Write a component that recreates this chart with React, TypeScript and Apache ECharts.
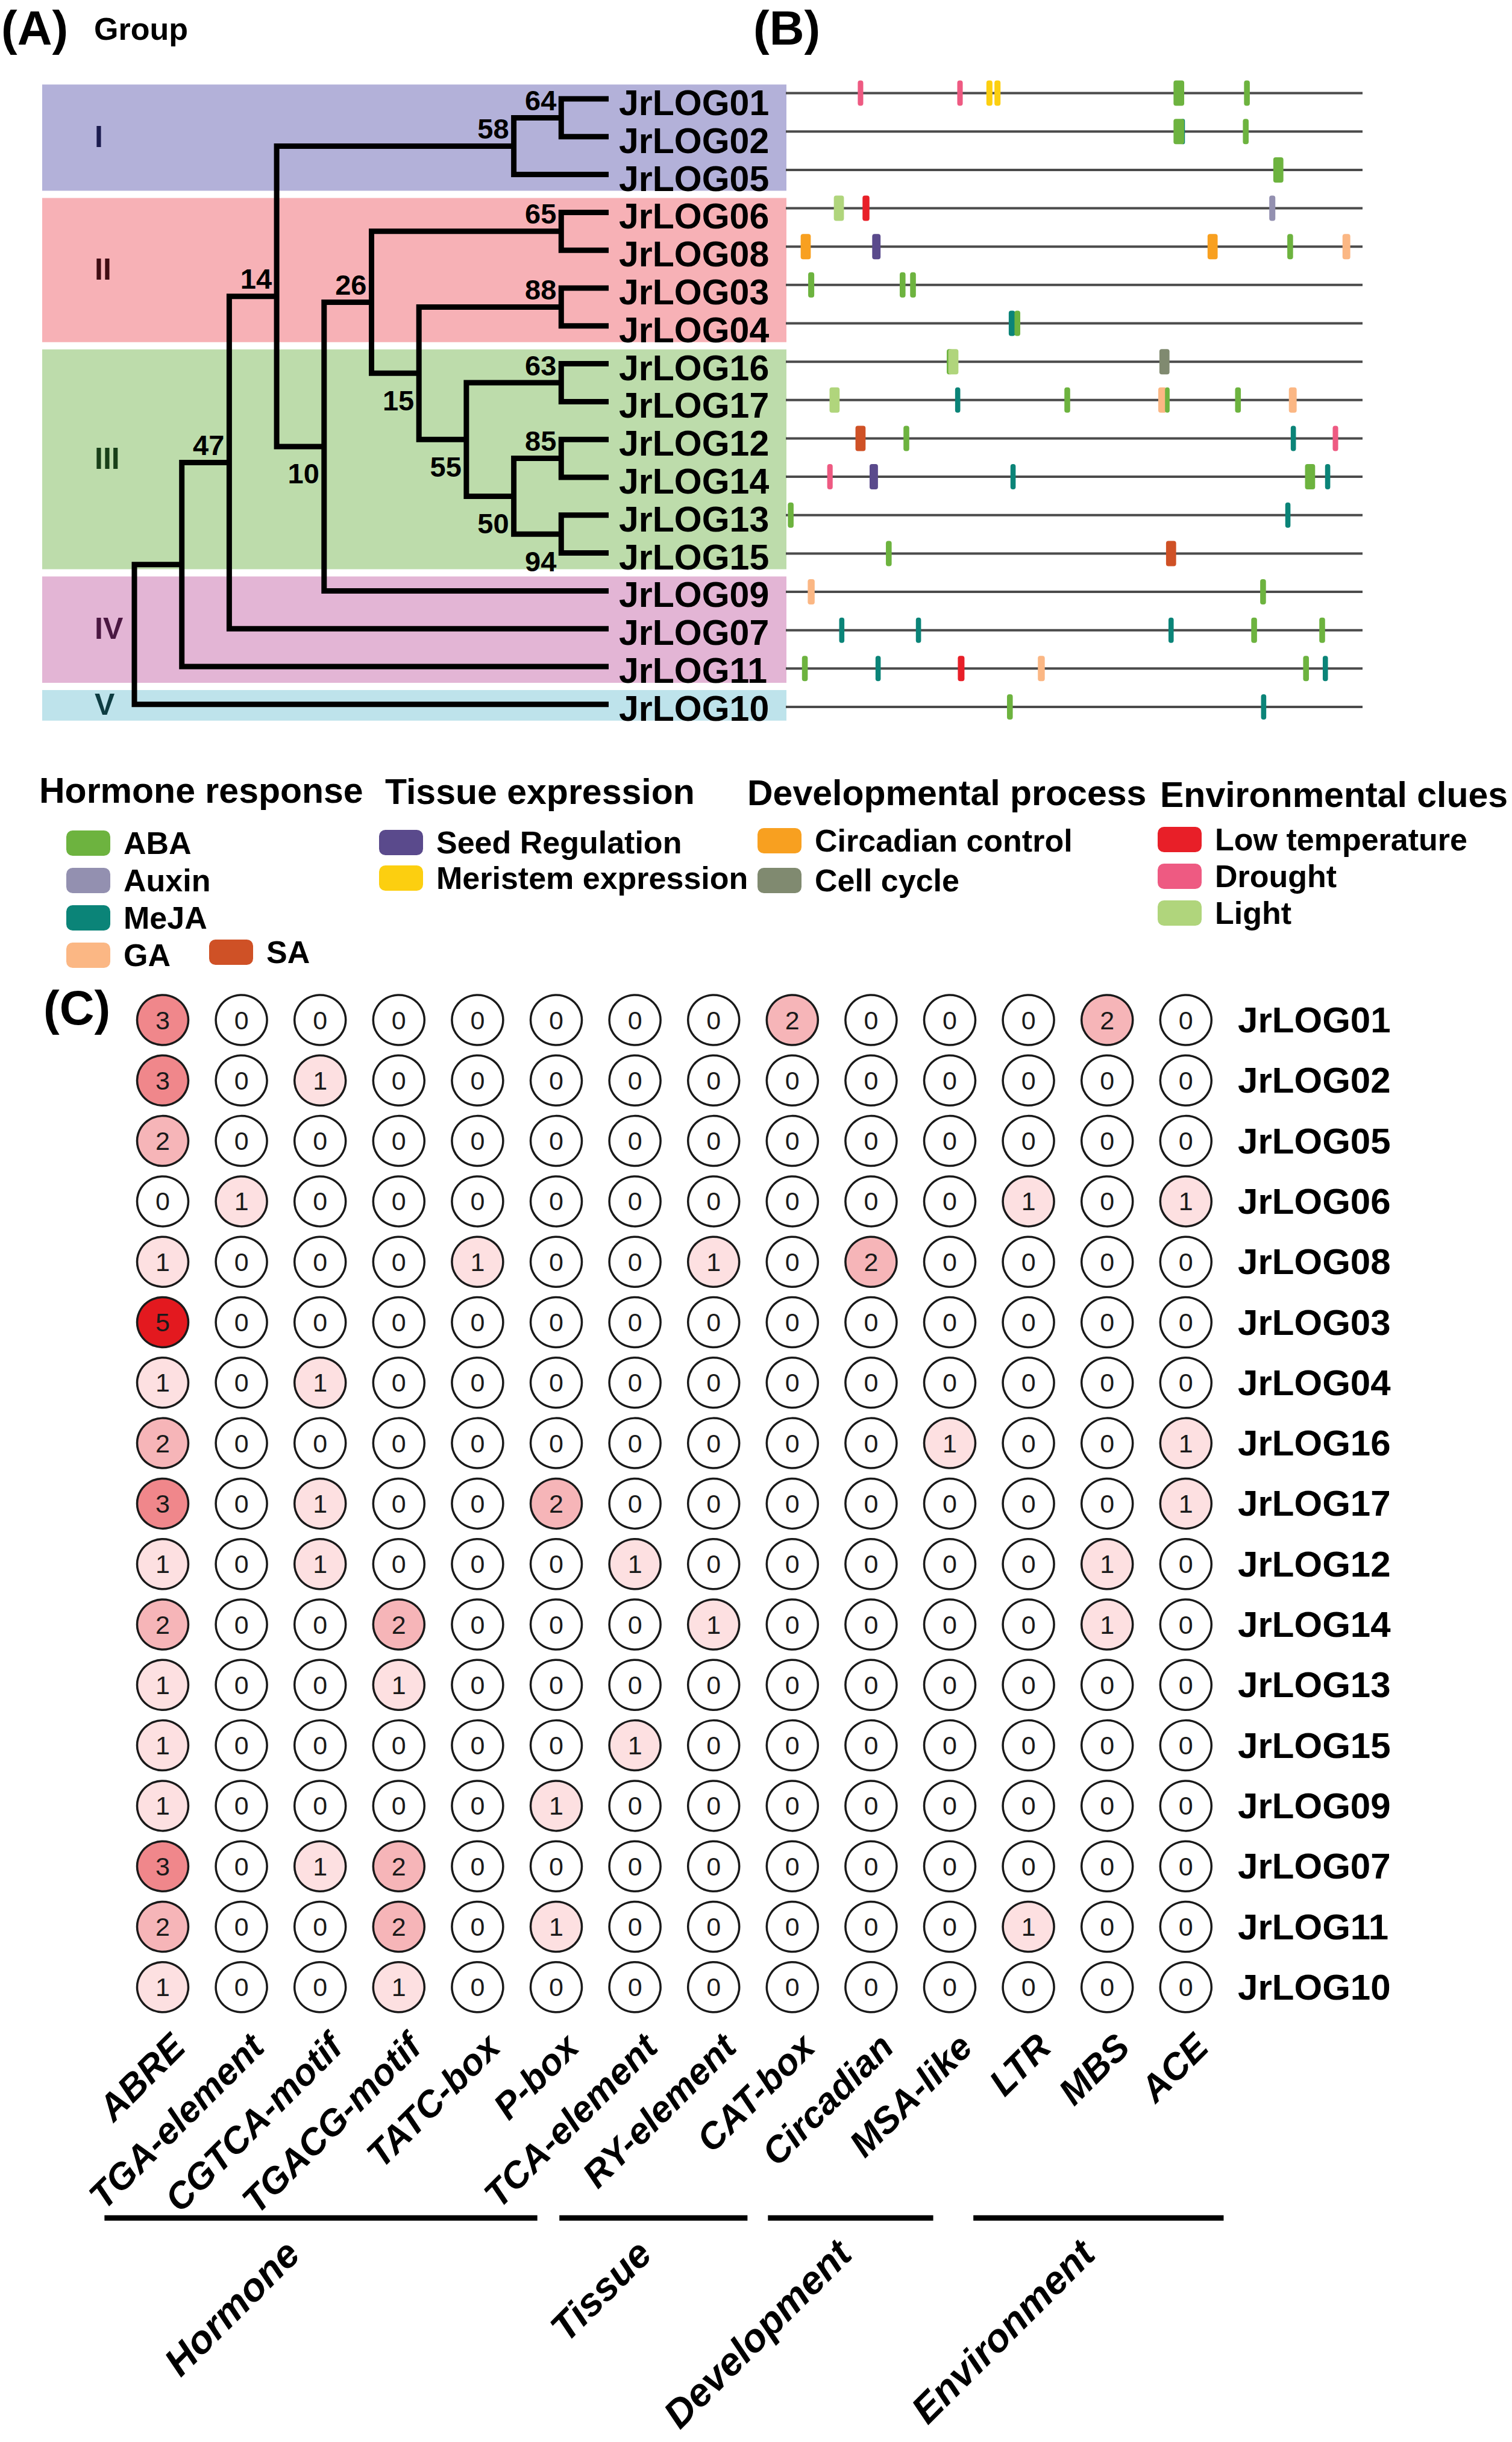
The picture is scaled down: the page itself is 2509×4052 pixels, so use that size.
import React, { useEffect, useRef } from 'react';
import * as echarts from 'echarts';

const FONT = '"Liberation Sans", Arial, Helvetica, sans-serif';

// ---------------- (A) phylogenetic tree ----------------
const leafNames = ['JrLOG01', 'JrLOG02', 'JrLOG05', 'JrLOG06', 'JrLOG08', 'JrLOG03', 'JrLOG04', 'JrLOG16', 'JrLOG17', 'JrLOG12', 'JrLOG14', 'JrLOG13', 'JrLOG15', 'JrLOG09', 'JrLOG07', 'JrLOG11', 'JrLOG10'];
const leafLevel = 10;
// internal nodes (children before parents): [id, level, child1, child2, bootstrap, label side]
const treeNodes: [string, number, string, string, string, string][] = [
  ['n64', 9, 'JrLOG01', 'JrLOG02', '64', 'above'],
  ['n58', 8, 'n64', 'JrLOG05', '58', 'above'],
  ['n65', 9, 'JrLOG06', 'JrLOG08', '65', 'above'],
  ['n88', 9, 'JrLOG03', 'JrLOG04', '88', 'above'],
  ['n63', 9, 'JrLOG16', 'JrLOG17', '63', 'above'],
  ['n85', 9, 'JrLOG12', 'JrLOG14', '85', 'above'],
  ['n94', 9, 'JrLOG13', 'JrLOG15', '94', 'below'],
  ['n50', 8, 'n85', 'n94', '50', 'below'],
  ['n55', 7, 'n63', 'n50', '55', 'below'],
  ['n15', 6, 'n88', 'n55', '15', 'below'],
  ['n26', 5, 'n65', 'n15', '26', 'above'],
  ['n10', 4, 'n26', 'JrLOG09', '10', 'below'],
  ['n14', 3, 'n58', 'n10', '14', 'above'],
  ['n47', 2, 'n14', 'JrLOG07', '47', 'above'],
  ['nA', 1, 'n47', 'JrLOG11', '', 'above'],
  ['root', 0, 'nA', 'JrLOG10', '', 'above'],
];

const groupNames = ['I', 'II', 'III', 'IV', 'V'];
const groupFirstLeaf = [0, 3, 7, 13, 16];
const groupLastLeaf = [2, 6, 12, 15, 16];
const groupColors = ['#b3b1d9', '#f7b1b6', '#bddcab', '#e3b5d5', '#bee3eb'];
const groupTextColors = ['#1c1c4f', '#3f0c12', '#183f18', '#4a1741', '#0e3d42'];

// ---------------- (B) promoter motifs: [row, position (bp), length (bp)] ----------------
const promoterLength = 2000;
const motifABA = [[0, 1363, 37], [0, 1599, 20], [1, 1363, 37], [1, 1595, 20], [2, 1708, 35], [4, 1749, 20], [5, 88, 21], [5, 405, 20], [5, 441, 20], [6, 803, 20], [7, 568, 20], [8, 976, 20], [8, 1323, 16], [8, 1568, 20], [9, 418, 20], [10, 1818, 35], [11, 17, 20], [12, 357, 20], [13, 1655, 20], [14, 1624, 20], [14, 1860, 20], [15, 66, 20], [15, 1804, 20], [16, 777, 20]];
const motifAuxin = [[3, 1687, 21]];
const motifMeJA = [[1, 1377, 14], [6, 784, 22], [8, 596, 18], [9, 1760, 18], [10, 788, 18], [10, 1879, 18], [11, 1741, 18], [14, 194, 18], [14, 460, 18], [14, 1336, 18], [15, 320, 18], [15, 1871, 18], [16, 1657, 18]];
const motifGA = [[4, 1944, 27], [8, 1306, 29], [8, 1758, 27], [13, 88, 24], [15, 886, 24]];
const motifSA = [[9, 259, 35], [12, 1336, 35]];
const motifSeed = [[4, 314, 29], [10, 305, 29]];
const motifMeristem = [[0, 706, 21], [0, 734, 21]];
const motifCircadian = [[4, 69, 35], [4, 1480, 35]];
const motifCellCycle = [[7, 1313, 35]];
const motifLowTemp = [[3, 278, 24], [15, 608, 23]];
const motifDrought = [[0, 259, 19], [0, 604, 19], [9, 1906, 19], [10, 153, 19]];
const motifLight = [[3, 184, 35], [7, 581, 35], [8, 169, 35]];

const motifTypes = [
  { name: 'MeJA', color: '#0b8478', data: motifMeJA },
  { name: 'GA', color: '#fbb784', data: motifGA },
  { name: 'SA', color: '#cf5126', data: motifSA },
  { name: 'Auxin', color: '#9390b0', data: motifAuxin },
  { name: 'Seed Regulation', color: '#5a4a8c', data: motifSeed },
  { name: 'Meristem expression', color: '#fccf10', data: motifMeristem },
  { name: 'Circadian control', color: '#f8a020', data: motifCircadian },
  { name: 'Cell cycle', color: '#808a70', data: motifCellCycle },
  { name: 'Low temperature', color: '#e81f28', data: motifLowTemp },
  { name: 'Drought', color: '#ee5a82', data: motifDrought },
  { name: 'ABA', color: '#6db33f', data: motifABA },
  { name: 'Light', color: '#b0d57c', data: motifLight },
];

// ---------------- (C) cis-element counts ----------------
const creNames = ['ABRE', 'TGA-element', 'CGTCA-motif', 'TGACG-motif', 'TATC-box', 'P-box', 'TCA-element', 'RY-element', 'CAT-box', 'Circadian', 'MSA-like', 'LTR', 'MBS', 'ACE'];
const cnt01 = [3, 0, 0, 0, 0, 0, 0, 0, 2, 0, 0, 0, 2, 0];
const cnt02 = [3, 0, 1, 0, 0, 0, 0, 0, 0, 0, 0, 0, 0, 0];
const cnt05 = [2, 0, 0, 0, 0, 0, 0, 0, 0, 0, 0, 0, 0, 0];
const cnt06 = [0, 1, 0, 0, 0, 0, 0, 0, 0, 0, 0, 1, 0, 1];
const cnt08 = [1, 0, 0, 0, 1, 0, 0, 1, 0, 2, 0, 0, 0, 0];
const cnt03 = [5, 0, 0, 0, 0, 0, 0, 0, 0, 0, 0, 0, 0, 0];
const cnt04 = [1, 0, 1, 0, 0, 0, 0, 0, 0, 0, 0, 0, 0, 0];
const cnt16 = [2, 0, 0, 0, 0, 0, 0, 0, 0, 0, 1, 0, 0, 1];
const cnt17 = [3, 0, 1, 0, 0, 2, 0, 0, 0, 0, 0, 0, 0, 1];
const cnt12 = [1, 0, 1, 0, 0, 0, 1, 0, 0, 0, 0, 0, 1, 0];
const cnt14 = [2, 0, 0, 2, 0, 0, 0, 1, 0, 0, 0, 0, 1, 0];
const cnt13 = [1, 0, 0, 1, 0, 0, 0, 0, 0, 0, 0, 0, 0, 0];
const cnt15 = [1, 0, 0, 0, 0, 0, 1, 0, 0, 0, 0, 0, 0, 0];
const cnt09 = [1, 0, 0, 0, 0, 1, 0, 0, 0, 0, 0, 0, 0, 0];
const cnt07 = [3, 0, 1, 2, 0, 0, 0, 0, 0, 0, 0, 0, 0, 0];
const cnt11 = [2, 0, 0, 2, 0, 1, 0, 0, 0, 0, 0, 1, 0, 0];
const cnt10 = [1, 0, 0, 1, 0, 0, 0, 0, 0, 0, 0, 0, 0, 0];
const creCounts = [cnt01, cnt02, cnt05, cnt06, cnt08, cnt03, cnt04, cnt16, cnt17, cnt12, cnt14, cnt13, cnt15, cnt09, cnt07, cnt11, cnt10];

const creGroupNames = ['Hormone', 'Tissue', 'Development', 'Environment'];
const creGroupStart = [-0.74, 5.04, 7.69, 10.3];
const creGroupEnd = [4.76, 7.43, 9.79, 13.48];
const creGroupLabelAt = [1.65, 6.12, 8.66, 11.75];

function buildOption() {
  const nodePos: Record<string, { x: number; y: number }> = {};
  leafNames.forEach((n, i) => { nodePos[n] = { x: leafLevel, y: i }; });
  treeNodes.forEach(([id, lvl, c1, c2]) => {
    nodePos[id] = { x: lvl, y: (nodePos[c1].y + nodePos[c2].y) / 2 };
  });

  const rowTop = 132.6, rowH = 1067.6;
  const motifTop = 122.8, motifH = 1082;
  const heatLeft = 204.7, heatTop = 1642.35, heatW = 1828.4, heatH = 1705.1;

  const legendText = { fontSize: 52, fontWeight: 'bold', fontFamily: FONT, color: '#000', padding: [0, 0, 0, 17], lineHeight: 42 };
  const legendBase = { orient: 'vertical', itemWidth: 73, itemHeight: 42, icon: 'roundRect', selectedMode: false, padding: 0, textStyle: legendText };

  const heatData: number[][] = [];
  creCounts.forEach((row, r) => row.forEach((v, c) => heatData.push([c, r, v])));

  const titleText = (text: string, x: number, y: number, size: number) => ({
    type: 'text', x, y,
    style: { text, fill: '#000', fontSize: size, fontWeight: 'bold', fontFamily: FONT, align: 'left', verticalAlign: 'middle' },
  });

  return {
    animation: false,
    backgroundColor: '#ffffff',
    grid: [
      { left: 70, top: rowTop, width: 1235, height: rowH, outerBoundsMode: 'none' },
      { left: 223, top: rowTop, width: 787, height: rowH, outerBoundsMode: 'none' },
      { left: 1304, top: motifTop, width: 957, height: motifH, outerBoundsMode: 'none' },
      { left: heatLeft, top: heatTop, width: heatW, height: heatH, outerBoundsMode: 'none' },
    ],
    xAxis: [
      { type: 'value', gridIndex: 0, min: 0, max: 1, show: false },
      { type: 'value', gridIndex: 1, min: 0, max: leafLevel, show: false },
      { type: 'value', gridIndex: 2, min: 0, max: promoterLength, show: false },
      {
        type: 'category', gridIndex: 3, data: creNames, position: 'bottom',
        axisLine: { show: false }, axisTick: { show: false }, splitLine: { show: false },
        axisLabel: { interval: 0, rotate: 45, margin: 12, align: 'right', verticalAlign: 'top', lineHeight: 74, fontSize: 61, fontWeight: 'bold', fontStyle: 'italic', fontFamily: FONT, color: '#000' },
      },
      { type: 'value', gridIndex: 3, min: -0.5, max: 13.5, show: false, position: 'top' },
    ],
    yAxis: [
      { type: 'value', gridIndex: 0, min: -0.5, max: 16.5, inverse: true, show: false },
      { type: 'value', gridIndex: 1, min: -0.5, max: 16.5, inverse: true, show: false, position: 'left' },
      {
        type: 'category', gridIndex: 1, data: leafNames, inverse: true, position: 'right', z: 20,
        axisLine: { show: false }, axisTick: { show: false }, splitLine: { show: false },
        axisLabel: { interval: 0, margin: 17, verticalAlign: 'top', lineHeight: 14, fontSize: 59, fontWeight: 'bold', fontFamily: FONT, color: '#000' },
      },
      { type: 'value', gridIndex: 2, min: -0.5, max: 16.5, inverse: true, show: false },
      {
        type: 'category', gridIndex: 3, data: leafNames, inverse: true, position: 'right',
        axisLine: { show: false }, axisTick: { show: false }, splitLine: { show: false },
        axisLabel: { interval: 0, margin: 21, fontSize: 60, fontWeight: 'bold', fontFamily: FONT, color: '#000' },
      },
      { type: 'value', gridIndex: 3, min: -0.5, max: 16.5, inverse: true, show: false, position: 'left' },
    ],
    visualMap: {
      show: false, type: 'continuous', seriesIndex: 15, dimension: 2, min: 0, max: 5,
      inRange: { color: ['#ffffff', '#fde0e1', '#f6b5b8', '#f0878b', '#ea4f55', '#e3191f'] },
    },
    legend: [
      { ...legendBase, left: 110, top: 1373, itemGap: 10, data: ['ABA', 'Auxin', 'MeJA', 'GA'] },
      { ...legendBase, left: 347, top: 1554, itemGap: 10, data: ['SA'] },
      { ...legendBase, left: 629, top: 1372, itemGap: 7, data: ['Seed Regulation', 'Meristem expression'] },
      { ...legendBase, left: 1257, top: 1369, itemGap: 14, data: ['Circadian control', 'Cell cycle'] },
      { ...legendBase, left: 1921, top: 1367, itemGap: 9, data: ['Low temperature', 'Drought', 'Light'] },
    ],
    graphic: [
      titleText('(A)', 2, 46, 80),
      titleText('Group', 156, 48, 52),
      titleText('(B)', 1250, 46, 80),
      titleText('(C)', 72, 1672, 80),
      titleText('Hormone response', 65, 1312, 59),
      titleText('Tissue expression', 639, 1314, 59),
      titleText('Developmental process', 1240, 1316, 59),
      titleText('Environmental clues', 1925, 1319, 59),
    ],
    series: [
      // 0: clade bands
      {
        type: 'custom', name: 'bands', xAxisIndex: 0, yAxisIndex: 0, silent: true, z: 1,
        data: groupNames.map((g, i) => [groupFirstLeaf[i], groupLastLeaf[i], i]),
        renderItem: (params: any, api: any) => {
          const i = params.dataIndex;
          const cs = params.coordSys;
          const first = groupFirstLeaf[i], last = groupLastLeaf[i];
          const y0 = api.coord([0, first - 0.38])[1];
          const y1 = api.coord([0, last + 0.43])[1];
          const ym = api.coord([0, (first + last) / 2])[1];
          return {
            type: 'group',
            children: [
              { type: 'rect', shape: { x: cs.x, y: y0, width: cs.width, height: y1 - y0 }, style: { fill: groupColors[i] } },
              { type: 'text', x: cs.x + 87, y: ym, style: { text: groupNames[i], fill: groupTextColors[i], fontSize: 50, fontWeight: 'bold', fontFamily: FONT, align: 'left', verticalAlign: 'middle' } },
            ],
          };
        },
      },
      // 1: tree
      {
        type: 'custom', name: 'tree', xAxisIndex: 1, yAxisIndex: 1, silent: true, z: 3,
        data: treeNodes.map((n) => [n[1], nodePos[n[0]].y]),
        renderItem: (params: any, api: any) => {
          const n = treeNodes[params.dataIndex];
          const p = nodePos[n[0]], c1 = nodePos[n[2]], c2 = nodePos[n[3]];
          const a = api.coord([c1.x, c1.y]);
          const b = api.coord([p.x, c1.y]);
          const c = api.coord([p.x, c2.y]);
          const d = api.coord([c2.x, c2.y]);
          const m = api.coord([p.x, p.y]);
          const children: any[] = [
            { type: 'polyline', shape: { points: [a, b, c, d] }, style: { stroke: '#000', lineWidth: 9, fill: 'none', lineJoin: 'miter' } },
          ];
          if (n[4]) {
            children.push({
              type: 'text', x: m[0] - 8, y: m[1] + (n[5] === 'above' ? -29 : 45),
              style: { text: n[4], fill: '#000', fontSize: 47, fontWeight: 'bold', fontFamily: FONT, align: 'right', verticalAlign: 'middle' },
            });
          }
          return { type: 'group', children };
        },
      },
      // 2: promoter lines
      {
        type: 'custom', name: 'promoter', xAxisIndex: 2, yAxisIndex: 3, silent: true,
        data: leafNames.map((_, i) => [0, i]),
        renderItem: (params: any, api: any) => {
          const r = api.value(1);
          const a = api.coord([0, r]);
          const b = api.coord([promoterLength, r]);
          return { type: 'line', shape: { x1: a[0], y1: a[1], x2: b[0], y2: b[1] }, style: { stroke: '#4b4b4b', lineWidth: 4 } };
        },
      },
      // 3-14: motif types
      ...motifTypes.map((t) => ({
        type: 'custom', name: t.name, xAxisIndex: 2, yAxisIndex: 3, silent: true,
        itemStyle: { color: t.color },
        data: t.data.map(([row, pos, len]) => [pos, row, len]),
        renderItem: (params: any, api: any) => {
          const pos = api.value(0), row = api.value(1), len = api.value(2);
          const a = api.coord([pos - len / 2, row]);
          const b = api.coord([pos + len / 2, row]);
          return { type: 'rect', shape: { x: a[0], y: a[1] - 21, width: b[0] - a[0], height: 42, r: 4 }, style: { fill: api.visual('color') } };
        },
      })),
      // 15: heat circles
      {
        type: 'scatter', name: 'counts', xAxisIndex: 3, yAxisIndex: 4, silent: true,
        symbol: 'circle', symbolSize: [85, 83],
        data: heatData,
        itemStyle: { borderColor: '#1a1a1a', borderWidth: 3.5, opacity: 1 },
        label: { show: true, position: 'inside', formatter: (p: any) => String(p.value[2]), color: '#1a1a1a', fontSize: 43, fontFamily: FONT },
      },
      // 16: group bars and labels
      {
        type: 'custom', name: 'groups', xAxisIndex: 4, yAxisIndex: 5, silent: true,
        data: creGroupNames.map((g, i) => [creGroupStart[i], creGroupEnd[i]]),
        renderItem: (params: any, api: any) => {
          const i = params.dataIndex;
          const x0 = api.coord([creGroupStart[i], 16])[0];
          const x1 = api.coord([creGroupEnd[i], 16])[0];
          const xl = api.coord([creGroupLabelAt[i], 16])[0];
          const yb = api.coord([0, 16])[1] + 383;
          return {
            type: 'group',
            children: [
              { type: 'line', shape: { x1: x0, y1: yb, x2: x1, y2: yb }, style: { stroke: '#000', lineWidth: 9 } },
              {
                type: 'text', x: xl, y: yb + 48, rotation: Math.PI / 4,
                style: { text: creGroupNames[i], fill: '#000', fontSize: 65, fontWeight: 'bold', fontStyle: 'italic', fontFamily: FONT, align: 'right', verticalAlign: 'middle' },
              },
            ],
          };
        },
      },
    ],
  };
}

export default function App() {
  const ref = useRef<HTMLDivElement>(null);
  useEffect(() => {
    if (!ref.current) return;
    const chart = echarts.init(ref.current, null, { renderer: 'svg' });
    chart.setOption(buildOption() as any);
    return () => chart.dispose();
  }, []);
  return <div ref={ref} style={{ position: 'absolute', left: 0, top: 0, width: 2509, height: 4052, background: '#fff' }} />;
}
